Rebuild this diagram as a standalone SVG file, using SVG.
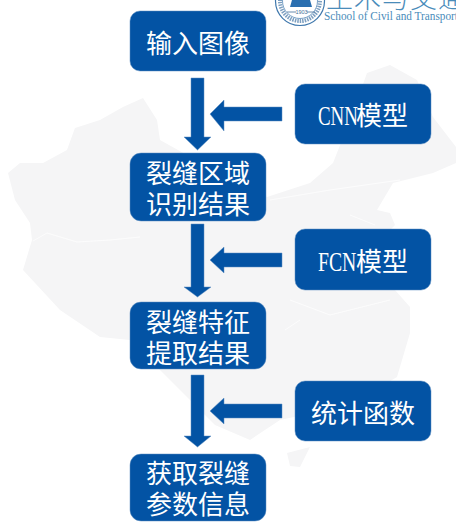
<svg xmlns="http://www.w3.org/2000/svg" width="456" height="526" viewBox="0 0 456 526">
<style>
.n{fill:#0353a4;stroke:#5f8fc0;stroke-width:.5}
.a{fill:#0353a4;stroke:#5f8fc0;stroke-width:.5}
.t{font-family:"Noto Sans CJK SC","Noto Sans CJK JP",sans-serif;font-size:26px;fill:#fff;text-anchor:middle}
.m{font-family:"Noto Sans CJK SC","Noto Sans CJK JP",sans-serif;font-size:26px;fill:#fff}
.l{font-family:"Liberation Serif",serif;font-size:27px;fill:#fff}
.s{font-family:"Liberation Serif",serif;font-size:12.500px;fill:#4a8cba}
.c{font-family:"Noto Sans CJK SC","Noto Sans CJK JP",sans-serif;font-size:27px;font-weight:300;fill:#4a8cba;letter-spacing:1px}
.r{fill:none;stroke:#fff;stroke-width:.7}
</style>
<rect width="456" height="526" fill="#fff"/>
<g id="map">
<path d="M8 173L20 163L43 163L67 150L75 128L100 120L123 107L143 98L157 120L160 140L187 155L267 197L310 183L333 163L350 120L367 73L390 65L417 80L433 117L456 147V163L433 173L393 183L377 210L390 213L395 225L380 240L370 262L395 290L410 307L410 333L397 377L350 405L280 420L250 440L215 425L180 390L130 340L100 337L60 310L23 270L32 240L30 223L15 200Z" fill="#f5f5f6"/>
<path d="M287 453L310 447L300 467L290 466Z" fill="#f5f5f6"/>
<path class="r" d="M33 241L47 233L77 242L110 240L140 237M270 200L330 190L400 180M290 300L330 315L390 300M285 330L300 320M350 215L375 225"/>
</g>
<g id="logo">
<circle cx="300" cy="1" r="24.500" fill="#fff" stroke="#3f78ad" stroke-width="1.200"/>
<circle cx="300" cy="1" r="20" fill="none" stroke="#7d9fc0" stroke-width="4" stroke-dasharray="1.500 1"/>
<circle cx="300" cy="1" r="17.500" fill="#fff" stroke="#3f78ad" stroke-width=".7"/>
<path d="M290 7L292 0H310L312 7Z" fill="#2a6fb0"/>
<path d="M287 12H296M307 12H315" stroke="#456f99" stroke-width=".8"/>
<text x="301.500" y="14" font-family="Liberation Sans,sans-serif" font-size="5.500" fill="#456f99" text-anchor="middle">1903</text>
<text class="c" x="326" y="8">土木与交通</text>
<text class="s" x="324" y="20" textLength="134" lengthAdjust="spacingAndGlyphs">School of Civil and Transport</text>
</g>
<g id="connectors">
<path class="a" d="M191 78H204V137H211L197.500 150L184 137H191Z"/>
<path class="a" d="M282 107V121H224V131L210 114L224 100V107Z"/>
<path class="a" d="M191 224H204V287H211L197.500 297L184 287H191Z"/>
<path class="a" d="M282 253V267H224V273L210 260L224 247V253Z"/>
<path class="a" d="M191 375H204V436H211L197.500 447L184 436H191Z"/>
<path class="a" d="M282 404V418H224V424L210 411L224 398V404Z"/>
</g>
<g id="n1"><rect class="n" x="130" y="11" width="136" height="60" rx="10"/><text class="t" x="198" y="53">输入图像</text></g>
<g id="n2"><rect class="n" x="130" y="153" width="136" height="68" rx="11"/><text class="t" x="198" y="183">裂缝区域</text><text class="t" x="198" y="214">识别结果</text></g>
<g id="n3"><rect class="n" x="130" y="302" width="136" height="67" rx="11"/><text class="t" x="198" y="332">裂缝特征</text><text class="t" x="198" y="363">提取结果</text></g>
<g id="n4"><rect class="n" x="130" y="454" width="136" height="67" rx="11"/><text class="t" x="198" y="483">获取裂缝</text><text class="t" x="198" y="514">参数信息</text></g>
<g id="m1"><rect class="n" x="295" y="84" width="136" height="60" rx="10"/><text class="l" transform="translate(318 125) scale(.7 1)">CNN</text><text class="m" x="356" y="125">模型</text></g>
<g id="m2"><rect class="n" x="295" y="229" width="136" height="61" rx="10"/><text class="l" transform="translate(318 271) scale(.73 1)">FCN</text><text class="m" x="356" y="271">模型</text></g>
<g id="m3"><rect class="n" x="295" y="381" width="136" height="60" rx="10"/><text class="t" x="363" y="423">统计函数</text></g>
</svg>
